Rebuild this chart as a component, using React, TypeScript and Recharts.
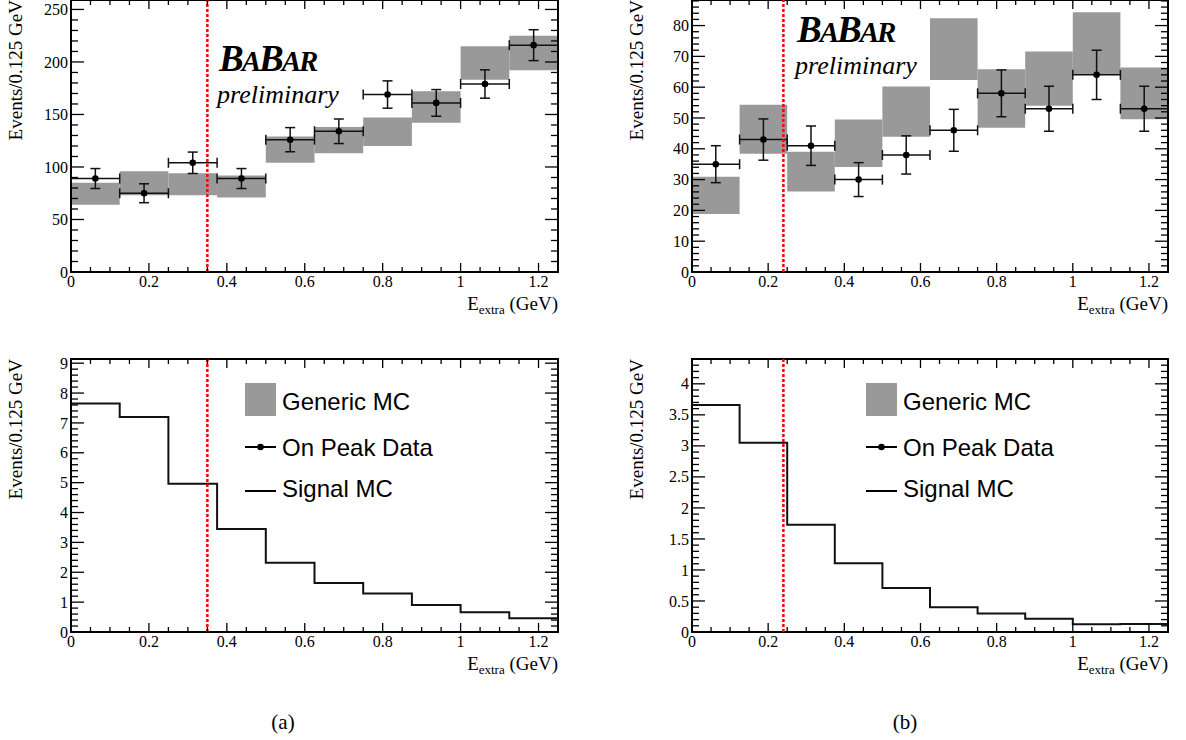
import React from "react";
import {
  ComposedChart,
  XAxis,
  YAxis,
  Scatter,
  ErrorBar,
  Line,
  ReferenceArea,
  ReferenceLine,
} from "recharts";

// E_extra bins (GeV), 0.125 GeV wide
const binLo = [0, 0.125, 0.25, 0.375, 0.5, 0.625, 0.75, 0.875, 1.0, 1.125];
const binCenter = [0.0625, 0.1875, 0.3125, 0.4375, 0.5625, 0.6875, 0.8125, 0.9375, 1.0625, 1.1875];
const BIN_HALF = 0.0625;
const X_MAX = 1.25;

// (a)
const mcLowA = [64, 73, 73, 71, 104, 113, 120, 142, 183, 192];
const mcHighA = [85, 96, 94, 92, 129, 138, 147, 172, 215, 225];
const dataA = [89, 75, 104, 89, 126, 134, 169, 161, 179, 216];
const errA = [9.5, 9, 10.2, 9.5, 11.5, 11.7, 13, 12.7, 13.5, 14.7];
const signalA = [7.65, 7.2, 4.96, 3.45, 2.32, 1.64, 1.29, 0.9, 0.66, 0.46];
const cutA = 0.35;

// (b)
const mcLowB = [18.8, 38.4, 26.1, 34.1, 43.9, 62.3, 46.8, 54, 64, 49.6];
const mcHighB = [30.9, 54.3, 39, 49.5, 60.2, 82.4, 65.8, 71.6, 84.3, 66.4];
const dataB = [35, 43, 41, 30, 38, 46, 58, 53, 64, 53];
const errB = [6, 6.7, 6.4, 5.5, 6.2, 6.8, 7.6, 7.3, 8, 7.3];
const signalB = [3.66, 3.05, 1.73, 1.11, 0.71, 0.4, 0.3, 0.215, 0.125, 0.13];
const cutB = 0.24;

// tick labels
const xLabels = [0, 0.2, 0.4, 0.6, 0.8, 1, 1.2];
const yLabelsTopA = [0, 50, 100, 150, 200, 250];
const yLabelsTopB = [0, 10, 20, 30, 40, 50, 60, 70, 80];
const yLabelsBotA = [0, 1, 2, 3, 4, 5, 6, 7, 8, 9];
const yLabelsBotB = [0, 0.5, 1, 1.5, 2, 2.5, 3, 3.5, 4];

const legendLabels = ["Generic MC", "On Peak Data", "Signal MC"];

const SERIF = "'Liberation Serif', 'Times New Roman', serif";
const SANS = "'Liberation Sans', Arial, sans-serif";
const MC_GRAY = "#999999";

const range = (lo: number, hi: number, step: number) => {
  const out: number[] = [];
  for (let v = lo; v <= hi + 1e-9; v += step) out.push(+v.toFixed(4));
  return out;
};
const fmt = (v: number) => String(+v.toFixed(2));
const isMajor = (v: number, majors: number[]) => majors.some((m) => Math.abs(m - v) < 1e-6);

function XTick(props: any) {
  const { x, y, payload, plotH, majors } = props;
  const major = isMajor(payload.value, majors);
  const len = major ? 9 : 5;
  return (
    <g>
      <line x1={x} y1={y} x2={x} y2={y - len} stroke="#000" strokeWidth={1.3} />
      <line x1={x} y1={y - plotH} x2={x} y2={y - plotH + len} stroke="#000" strokeWidth={1.3} />
      {major && (
        <text x={x} y={y + 15} textAnchor="middle" fontFamily={SERIF} fontSize={16} fill="#000">
          {fmt(payload.value)}
        </text>
      )}
    </g>
  );
}

function YTick(props: any) {
  const { x, y, payload, plotW, majors } = props;
  const major = isMajor(payload.value, majors);
  const len = major ? 13 : 7;
  return (
    <g>
      <line x1={x} y1={y} x2={x + len} y2={y} stroke="#000" strokeWidth={1.3} />
      <line x1={x + plotW} y1={y} x2={x + plotW - len} y2={y} stroke="#000" strokeWidth={1.3} />
      {major && (
        <text x={x - 3} y={y} dy="0.35em" textAnchor="end" fontFamily={SERIF} fontSize={16} fill="#000">
          {fmt(payload.value)}
        </text>
      )}
    </g>
  );
}

function XTitle({ viewBox }: any) {
  const { x, y, width } = viewBox;
  return (
    <text x={x + width} y={y + 38} textAnchor="end" fontFamily={SERIF} fontSize={19} fill="#000">
      E
      <tspan fontSize={13} dy={4}>
        extra
      </tspan>
      <tspan dy={-4}> (GeV)</tspan>
    </text>
  );
}

function YTitle({ viewBox }: any) {
  const { x, y, width } = viewBox;
  const tx = x + width - 49;
  return (
    <text
      x={tx}
      y={y}
      transform={`rotate(-90 ${tx} ${y})`}
      textAnchor="end"
      fontFamily={SERIF}
      fontSize={19}
      fill="#000"
    >
      Events/0.125 GeV
    </text>
  );
}

const Dot = (p: any) => <circle cx={p.cx} cy={p.cy} r={3.3} fill="#000" />;

type PanelProps = {
  left: number;
  top: number;
  width: number;
  height: number;
  yAxisW: number;
  mt: number;
  mr: number;
  xAxisH: number;
  yMax: number;
  yStep: number;
  yMajors: number[];
  cut: number;
  mcLow?: number[];
  mcHigh?: number[];
  data?: number[];
  err?: number[];
  signal?: number[];
};

function Panel(p: PanelProps) {
  const plotW = p.width - p.yAxisW - p.mr;
  const plotH = p.height - p.mt - p.xAxisH;
  const points = p.data
    ? binCenter.map((x, i) => ({ x, y: p.data![i], yErr: p.err![i], xErr: BIN_HALF }))
    : [];
  const steps = p.signal
    ? [...binLo.map((x, i) => ({ x, y: p.signal![i] })), { x: X_MAX, y: p.signal[p.signal.length - 1] }]
    : [];
  return (
    <div style={{ position: "absolute", left: p.left, top: p.top }}>
      <ComposedChart
        width={p.width}
        height={p.height}
        margin={{ top: p.mt, right: p.mr, bottom: 0, left: 0 }}
      >
        <XAxis
          dataKey="x"
          type="number"
          domain={[0, X_MAX]}
          ticks={range(0, X_MAX, 0.05)}
          interval={0}
          allowDataOverflow
          height={p.xAxisH}
          axisLine={false}
          tickLine={false}
          tickSize={0}
          tickMargin={0}
          tick={<XTick plotH={plotH} majors={xLabels} />}
          label={(lp: any) => <XTitle viewBox={lp.viewBox} />}
        />
        <YAxis
          type="number"
          domain={[0, p.yMax]}
          ticks={range(0, p.yMax, p.yStep)}
          interval={0}
          allowDataOverflow
          width={p.yAxisW}
          axisLine={false}
          tickLine={false}
          tickSize={0}
          tickMargin={0}
          tick={<YTick plotW={plotW} majors={p.yMajors} />}
          label={(lp: any) => <YTitle viewBox={lp.viewBox} />}
        />
        {p.mcLow &&
          binLo.map((lo, i) => (
            <ReferenceArea
              key={"mc" + i}
              x1={lo}
              x2={lo + 2 * BIN_HALF}
              y1={p.mcLow![i]}
              y2={p.mcHigh![i]}
              fill={MC_GRAY}
              fillOpacity={1}
              stroke="none"
            />
          ))}
        {p.signal && (
          <Line
            data={steps}
            dataKey="y"
            type="stepAfter"
            stroke="#111"
            strokeWidth={2}
            dot={false}
            activeDot={false}
            isAnimationActive={false}
          />
        )}
        {p.data && (
          <Scatter data={points} dataKey="y" shape={<Dot />} isAnimationActive={false}>
            <ErrorBar dataKey="yErr" direction="y" width={5} stroke="#111" strokeWidth={1.5} />
            <ErrorBar dataKey="xErr" direction="x" width={5} stroke="#111" strokeWidth={1.5} />
          </Scatter>
        )}
        <ReferenceLine x={p.cut} stroke="#ff0000" strokeWidth={2.5} strokeDasharray="3 2" />
        <ReferenceArea x1={0} x2={X_MAX} y1={0} y2={p.yMax} fill="none" stroke="#000" strokeWidth={2} />
      </ComposedChart>
    </div>
  );
}

function Logo({ x, y }: { x: number; y: number }) {
  return (
    <g>
      <text x={x} y={y} fontFamily={SERIF} fontWeight="bold" fontStyle="italic" fill="#000" letterSpacing={-2}>
        <tspan fontSize={37}>B</tspan>
        <tspan fontSize={29}>A</tspan>
        <tspan fontSize={37}>B</tspan>
        <tspan fontSize={29}>AR</tspan>
      </text>
      <text x={x - 2} y={y + 32} fontFamily={SERIF} fontStyle="italic" fontSize={26} fill="#000">
        preliminary
      </text>
    </g>
  );
}

function LegendBox({ x, y }: { x: number; y: number }) {
  return (
    <g fontFamily={SANS} fontSize={24} fill="#000">
      <rect x={x} y={y} width={31} height={33} fill={MC_GRAY} />
      <text x={x + 37} y={y + 27}>
        {legendLabels[0]}
      </text>
      <line x1={x} y1={y + 64} x2={x + 31} y2={y + 64} stroke="#000" strokeWidth={2} />
      <circle cx={x + 15.5} cy={y + 64} r={3.3} fill="#000" />
      <text x={x + 37} y={y + 73}>
        {legendLabels[1]}
      </text>
      <line x1={x} y1={y + 108} x2={x + 31} y2={y + 108} stroke="#000" strokeWidth={2} />
      <text x={x + 37} y={y + 114}>
        {legendLabels[2]}
      </text>
    </g>
  );
}

export default function App() {
  return (
    <div style={{ position: "absolute", left: 0, top: 0, width: 1186, height: 740, background: "#fff" }}>
      <Panel
        left={0} top={0} width={593} height={320} yAxisW={71} mt={0} mr={35} xAxisH={48}
        yMax={259} yStep={10} yMajors={yLabelsTopA} cut={cutA}
        mcLow={mcLowA} mcHigh={mcHighA} data={dataA} err={errA}
      />
      <Panel
        left={593} top={0} width={593} height={320} yAxisW={99} mt={0} mr={18} xAxisH={48}
        yMax={88.3} yStep={2} yMajors={yLabelsTopB} cut={cutB}
        mcLow={mcLowB} mcHigh={mcHighB} data={dataB} err={errB}
      />
      <Panel
        left={0} top={320} width={593} height={360} yAxisW={71} mt={39} mr={35} xAxisH={48}
        yMax={9.14} yStep={0.2} yMajors={yLabelsBotA} cut={cutA} signal={signalA}
      />
      <Panel
        left={593} top={320} width={593} height={360} yAxisW={99} mt={39} mr={18} xAxisH={48}
        yMax={4.4} yStep={0.1} yMajors={yLabelsBotB} cut={cutB} signal={signalB}
      />
      <svg
        width={1186}
        height={740}
        style={{ position: "absolute", left: 0, top: 0, pointerEvents: "none" }}
      >
        <Logo x={219} y={71} />
        <Logo x={797} y={42} />
        <LegendBox x={245} y={383} />
        <LegendBox x={866} y={383} />
        <text x={283} y={729} textAnchor="middle" fontFamily={SERIF} fontSize={21} fill="#000">
          (a)
        </text>
        <text x={905} y={729} textAnchor="middle" fontFamily={SERIF} fontSize={21} fill="#000">
          (b)
        </text>
      </svg>
    </div>
  );
}
